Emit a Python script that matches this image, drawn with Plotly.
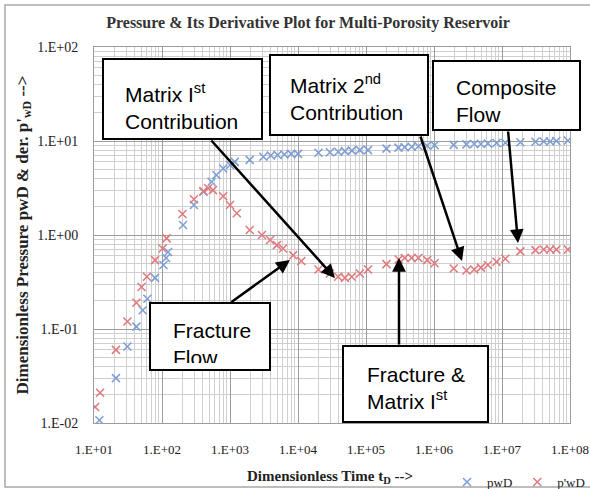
import plotly.graph_objects as go

# ---------------- data ----------------
t_pwd = [12, 21, 31, 42, 52, 61, 79, 105, 115, 123, 204, 295, 407, 537, 631, 794,
         1000, 1175, 1950, 3090, 3980, 5010, 6310, 7940, 10000,
         20000, 29500, 39000, 49000, 62000, 81000, 107000,
         200000, 300000, 370000, 470000, 590000, 790000, 1020000,
         1950000, 3000000, 3900000, 4900000, 6200000, 8300000, 11200000,
         18600000, 31000000, 41000000, 51000000, 63000000, 93000000]
pwd = [0.0107, 0.030, 0.065, 0.106, 0.158, 0.21, 0.35, 0.48, 0.57, 0.66, 1.28, 2.09, 2.89, 3.69, 4.35, 5.1,
       5.56, 6.0, 6.3, 6.8, 7.0, 7.1, 7.2, 7.3, 7.3,
       7.5, 7.6, 7.7, 7.8, 7.9, 8.0, 8.0,
       8.3, 8.5, 8.6, 8.7, 8.8, 8.9, 9.0,
       9.1, 9.2, 9.3, 9.3, 9.4, 9.5, 9.6,
       9.7, 9.8, 9.9, 9.9, 10.0, 10.1]

t_dpwd = [10.4, 12.3, 21, 31, 42, 50, 60, 79, 102, 117, 200, 295, 407, 479, 562, 794,
          1000, 1259, 1950, 2950, 3890, 4900, 6030, 8510, 11200,
          20000, 29500, 38900, 49000, 61700, 81300, 107000,
          200000, 302000, 372000, 468000, 589000, 794000, 1020000,
          1950000, 3000000, 3900000, 4900000, 6200000, 8300000, 11200000,
          18600000, 31000000, 41000000, 51000000, 63000000, 93000000]
dpwd = [0.0148, 0.021, 0.060, 0.12, 0.19, 0.28, 0.36, 0.54, 0.72, 0.92, 1.67, 2.4, 2.94, 3.14, 3.0, 2.58,
        2.09, 1.70, 1.13, 1.0, 0.885, 0.78, 0.72, 0.61, 0.53,
        0.43, 0.39, 0.36, 0.35, 0.36, 0.39, 0.43,
        0.49, 0.55, 0.57, 0.57, 0.57, 0.54, 0.50,
        0.44, 0.42, 0.43, 0.45, 0.48, 0.52, 0.56,
        0.67, 0.69, 0.70, 0.70, 0.70, 0.70]

x_tickvals = [1e1, 1e2, 1e3, 1e4, 1e5, 1e6, 1e7, 1e8]
x_ticktext = ["1.E+01", "1.E+02", "1.E+03", "1.E+04", "1.E+05", "1.E+06", "1.E+07", "1.E+08"]
y_tickvals = [1e-2, 1e-1, 1e0, 1e1, 1e2]
y_ticktext = ["1.E-02", "1.E-01", "1.E+00", "1.E+01", "1.E+02"]

# ---------------- layout helpers (pixel -> paper) ----------------
W, H = 590, 489
L, R, T, B = 94, 570, 47, 423


def px(x):
    return (x - L) / (R - L)


def py(y):
    return (B - y) / (B - T)


SERIF = "Liberation Serif, Times New Roman, serif"
SANS = "Liberation Sans, Arial, sans-serif"
BLUE = "#7d9dd3"
RED = "#e0787c"

fig = go.Figure()
fig.add_trace(go.Scatter(x=t_pwd, y=pwd, mode="markers", name="pwD",
                         marker=dict(symbol="x-thin", size=8, color=BLUE,
                                     line=dict(color=BLUE, width=1.5))))
fig.add_trace(go.Scatter(x=t_dpwd, y=dpwd, mode="markers", name="p'wD",
                         marker=dict(symbol="x-thin", size=8, color=RED,
                                     line=dict(color=RED, width=1.5))))

shapes = []
annotations = []

# outer frame
shapes.append(dict(type="rect", xref="paper", yref="paper",
                   x0=px(5), x1=px(600), y0=py(5), y1=py(487),
                   line=dict(color="#a8a8a8", width=1.5), layer="below"))

# text boxes: (x0, y0, x1, y1) pixel
boxes = [
    (103, 59, 262, 139, "Matrix I<sup>st</sup><br>Contribution", 123, 106, None),
    (270, 55, 428, 135, "Matrix 2<sup>nd</sup><br>Contribution", 288, 97, None),
    (433, 61, 580, 130, "Composite<br>Flow", 454, 101, None),
    (150, 303, 270, 370, "Fracture<br>Flow", 172, None, (318, 44)),
    (343, 346, 488, 422, "Fracture &amp;<br>Matrix I<sup>st</sup>", 365, 388, None),
]
for x0, y0, x1, y1, txt, tx, tymid, clip in boxes:
    shapes.append(dict(type="rect", xref="paper", yref="paper",
                       x0=px(x0), x1=px(x1), y0=py(y0), y1=py(y1),
                       line=dict(color="black", width=2), fillcolor="white",
                       layer="above"))
    if clip is None:
        annotations.append(dict(xref="paper", yref="paper", x=px(tx), y=py(tymid),
                                xanchor="left", yanchor="middle", align="left",
                                text=txt, showarrow=False,
                                font=dict(family=SANS, size=21, color="black")))
    else:
        ytop, hgt = clip
        annotations.append(dict(xref="paper", yref="paper", x=px(tx), y=py(ytop),
                                xanchor="left", yanchor="top", align="left",
                                valign="top", height=hgt, width=95,
                                text=txt, showarrow=False, borderpad=0,
                                font=dict(family=SANS, size=21, color="black")))

# arrows: tail (x, y) -> head (x, y) in pixels
arrows = [
    ((210, 139), (335, 278)),
    ((230, 303), (290, 260)),
    ((420, 135), (462, 261)),
    ((508, 130), (518, 243)),
    ((399, 346), (399, 258)),
]
for (tx0, ty0), (hx, hy) in arrows:
    annotations.append(dict(xref="paper", yref="paper", x=px(hx), y=py(hy),
                            ax=tx0 - hx, ay=ty0 - hy, text="", showarrow=True,
                            arrowhead=2, arrowsize=1.1, arrowwidth=2.5,
                            arrowcolor="black"))

# x-axis title (placed as text below the tick labels)
annotations.append(dict(xref="paper", yref="paper", x=px(330), y=py(477),
                        xanchor="center", yanchor="middle", showarrow=False,
                        text="<b>Dimensionless Time t<sub>D</sub> --&gt;</b>",
                        font=dict(family=SERIF, size=15, color="#222222")))

fig.update_layout(
    width=W, height=H,
    margin=dict(l=L, r=W - R, t=T, b=H - B),
    paper_bgcolor="white", plot_bgcolor="white",
    title=dict(text="<b>Pressure &amp; Its Derivative Plot for Multi-Porosity Reservoir</b>",
               x=px(308), xref="paper", xanchor="center",
               y=1 - 22 / H, yref="container", yanchor="middle",
               font=dict(family=SERIF, size=16, color="#333333")),
    showlegend=True,
    legend=dict(orientation="h", xref="container", yref="container",
                x=1.0, xanchor="right", y=1 - 482 / H, yanchor="middle",
                font=dict(family=SERIF, size=13, color="#222222"),
                itemwidth=30, bgcolor="rgba(0,0,0,0)", tracegroupgap=0),
    shapes=shapes,
    annotations=annotations,
    font=dict(family=SERIF, color="#222222"),
)

fig.update_xaxes(
    type="log", range=[1, 8], automargin=False,
    tickmode="array", tickvals=x_tickvals, ticktext=x_ticktext,
    tickfont=dict(family=SERIF, size=13, color="#222222"),
    ticks="", ticklabelstandoff=14, ticklabeloverflow="allow",
    showgrid=True, gridcolor="#9c9c9c", gridwidth=1,
    minor=dict(dtick="D1", showgrid=True, gridcolor="#cfcfcf", gridwidth=1, ticks=""),
    showline=True, linecolor="#9c9c9c", linewidth=1, mirror=True, zeroline=False,
)
fig.update_yaxes(
    type="log", range=[-2, 2], automargin=False,
    tickmode="array", tickvals=y_tickvals, ticktext=y_ticktext,
    tickfont=dict(family=SERIF, size=14, color="#222222"),
    ticks="", ticklabelstandoff=12,
    showgrid=True, gridcolor="#9c9c9c", gridwidth=1,
    minor=dict(dtick="D1", showgrid=True, gridcolor="#cfcfcf", gridwidth=1, ticks=""),
    showline=True, linecolor="#9c9c9c", linewidth=1, mirror=True, zeroline=False,
    title=dict(text="<b>Dimensionless Pressure pwD &amp; der. p'<sub>wD</sub> --&gt;</b>",
               font=dict(family=SERIF, size=17, color="#222222"), standoff=4),
)

fig.write_html("out.html")
